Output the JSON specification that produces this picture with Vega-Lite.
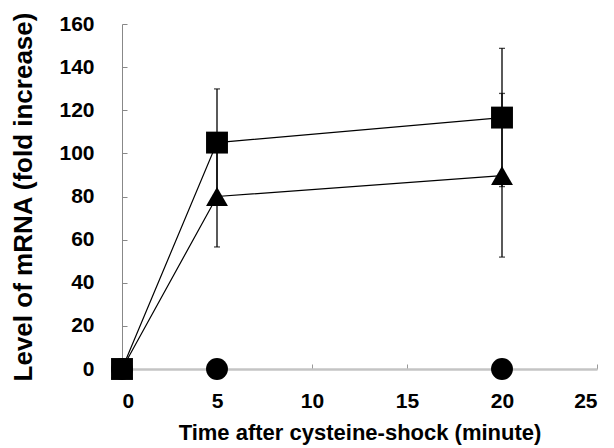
{
  "$schema": "https://vega.github.io/schema/vega-lite/v6.json",
  "width": 475,
  "height": 345,
  "autosize": {"type": "none"},
  "padding": {"left": 122, "top": 24, "right": 17, "bottom": 79},
  "background": "white",
  "config": {
    "view": {"stroke": null},
    "font": "Liberation Sans",
    "axis": {
      "grid": false,
      "labelFont": "Liberation Sans",
      "labelFontWeight": "bold",
      "labelFontSize": 21,
      "labelColor": "black",
      "titleFont": "Liberation Sans",
      "titleFontWeight": "bold",
      "titleColor": "black",
      "tickColor": "#888888",
      "tickSize": -5
    }
  },
  "data": {
    "values": [
      {"series": "circle", "time": 0, "value": 0},
      {"series": "circle", "time": 5, "value": 0},
      {"series": "circle", "time": 20, "value": 0},
      {"series": "triangle", "time": 0, "value": 0},
      {"series": "triangle", "time": 5, "value": 80, "lo": 56.6, "hi": 103.4},
      {"series": "triangle", "time": 20, "value": 89.7, "lo": 51.9, "hi": 127.8},
      {"series": "square", "time": 0, "value": 0},
      {"series": "square", "time": 5, "value": 105, "lo": 80, "hi": 129.9},
      {"series": "square", "time": 20, "value": 116.6, "lo": 84.6, "hi": 148.7}
    ]
  },
  "encoding": {
    "x": {
      "field": "time",
      "type": "quantitative",
      "scale": {"domain": [0, 25], "nice": false},
      "axis": {
        "values": [0, 5, 10, 15, 20, 25],
        "title": "Time after cysteine-shock (minute)",
        "titleFontSize": 22,
        "titlePadding": 11,
        "labelPadding": 26,
        "domainColor": "#c4c4c4",
        "domainWidth": 2.5,
        "tickColor": "#999999"
      }
    }
  },
  "layer": [
    {
      "transform": [{"filter": "isValid(datum.lo)"}],
      "mark": {"type": "rule", "color": "black", "strokeWidth": 1.3},
      "encoding": {
        "y": {"field": "lo", "type": "quantitative", "scale": {"domain": [0, 160], "nice": false}},
        "y2": {"field": "hi"}
      }
    },
    {
      "transform": [{"filter": "isValid(datum.lo)"}],
      "mark": {"type": "tick", "orient": "horizontal", "color": "black", "size": 6, "thickness": 1.3},
      "encoding": {"y": {"field": "lo", "type": "quantitative"}}
    },
    {
      "transform": [{"filter": "isValid(datum.hi)"}],
      "mark": {"type": "tick", "orient": "horizontal", "color": "black", "size": 6, "thickness": 1.3},
      "encoding": {"y": {"field": "hi", "type": "quantitative"}}
    },
    {
      "transform": [{"filter": "datum.series != 'circle'"}],
      "mark": {"type": "line", "color": "black", "strokeWidth": 1.2},
      "encoding": {
        "y": {"field": "value", "type": "quantitative"},
        "detail": {"field": "series"}
      }
    },
    {
      "mark": {"type": "point", "filled": true, "color": "black", "opacity": 1, "size": 480},
      "encoding": {
        "y": {
          "field": "value",
          "type": "quantitative",
          "scale": {"domain": [0, 160], "nice": false},
          "axis": {
            "values": [0, 20, 40, 60, 80, 100, 120, 140, 160],
            "title": "Level of mRNA (fold increase)",
            "titleFontSize": 26,
            "titlePadding": 22,
            "labelPadding": 33,
            "domainColor": "#888888",
            "domainWidth": 1
          }
        },
        "shape": {
          "field": "series",
          "type": "nominal",
          "scale": {"domain": ["circle", "triangle", "square"], "range": ["circle", "triangle-up", "square"]},
          "legend": null
        }
      }
    }
  ]
}
